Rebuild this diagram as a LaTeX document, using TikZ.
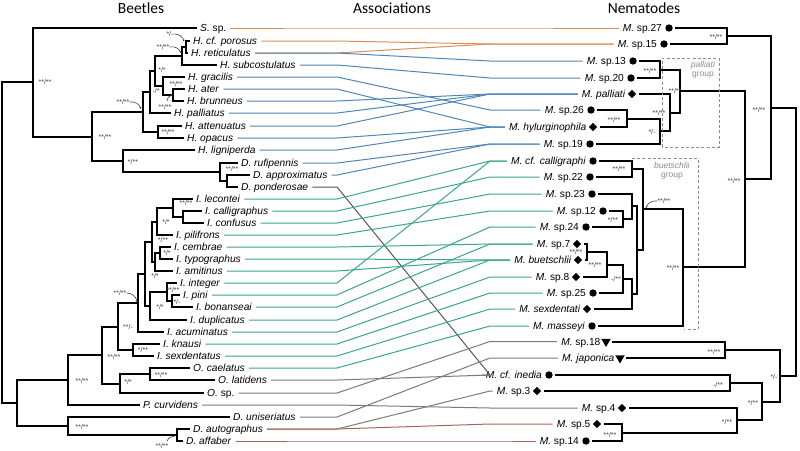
\documentclass[tikz,border=0pt]{standalone}
\usepackage{fontspec}
\setmainfont{Liberation Sans}
\newfontfamily\titlefont{Carlito}
\usetikzlibrary{shapes.geometric,calc,arrows.meta}
\definecolor{corn}{HTML}{DE8C55}
\definecolor{cblu}{HTML}{4F86B5}
\definecolor{cgrn}{HTML}{3AA58A}
\definecolor{cgry}{HTML}{7A7A7A}
\definecolor{cdgy}{HTML}{555555}
\definecolor{cred}{HTML}{B0605A}
\newcommand\linkit[3]{\draw[assoc,#3] ([xshift=4pt]#1.east) -- (bx |- #1.east) -- (cx |- #2.west) -- ([xshift=-4pt]#2.west);}
\begin{document}
\begin{tikzpicture}[x=1pt,y=-1pt,
  tree/.style={line width=2pt, line join=miter},
  assoc/.style={line width=1pt},
  lab/.style={font=\fontsize{10.2}{12}\selectfont, inner sep=0pt, text height=7.3pt, text depth=0pt, anchor=west},
  rlab/.style={lab, anchor=east},
  sup/.style={font=\fontsize{7}{8}\selectfont, text=black!75, inner sep=0pt},
  ttl/.style={font=\titlefont\fontsize{15.5}{17}\selectfont, inner sep=0pt},
  dotm/.style={circle, fill=black, inner sep=0pt, minimum size=7.4pt},
  diam/.style={diamond, fill=black, inner sep=0pt, minimum size=8.6pt},
  tri/.style={regular polygon, regular polygon sides=3, shape border rotate=180, fill=black, inner sep=0pt, minimum size=11pt},
  grp/.style={draw=black!45, dashed, dash pattern=on 3pt off 2.2pt, line width=0.9pt},
  grpt/.style={font=\fontsize{8.5}{9}\selectfont, text=black!45, inner sep=0pt, align=center},
  arr/.style={line width=0.6pt, black!75, -{Stealth[length=2pt,width=2pt]}}
]
\useasboundingbox (0,0) rectangle (800,450);
\coordinate (bx) at (337,0);
\coordinate (cx) at (490,0);

% titles
\node[ttl] (tB) at (141,8) {Beetles};
\node[ttl] (tA) at (392,8) {Associations};
\node[ttl] (tN) at (644,8) {Nematodes};

% beetle labels
\node[lab] (L1) at (200,28) {\textit{S.} sp.};
\node[lab] (L2) at (193,41) {\textit{H. cf. porosus}};
\node[lab] (L3) at (191,53) {\textit{H. reticulatus}};
\node[lab] (L4) at (220,65) {\textit{H. subcostulatus}};
\node[lab] (L5) at (188,77) {\textit{H. gracilis}};
\node[lab] (L6) at (188,89) {\textit{H. ater}};
\node[lab] (L7) at (187,101) {\textit{H. brunneus}};
\node[lab] (L8) at (174,113) {\textit{H. palliatus}};
\node[lab] (L9) at (185,126) {\textit{H. attenuatus}};
\node[lab] (L10) at (187,138) {\textit{H. opacus}};
\node[lab] (L11) at (198,150) {\textit{H. ligniperda}};
\node[lab] (L12) at (241,163) {\textit{D. rufipennis}};
\node[lab] (L13) at (253,175) {\textit{D. approximatus}};
\node[lab] (L14) at (241,187) {\textit{D. ponderosae}};
\node[lab] (L15) at (196,199) {\textit{I. lecontei}};
\node[lab] (L16) at (205,211) {\textit{I. calligraphus}};
\node[lab] (L17) at (207,223) {\textit{I. confusus}};
\node[lab] (L18) at (176,235) {\textit{I. pilifrons}};
\node[lab] (L19) at (174,247) {\textit{I. cembrae}};
\node[lab] (L20) at (176,259) {\textit{I. typographus}};
\node[lab] (L21) at (176,271) {\textit{I. amitinus}};
\node[lab] (L22) at (180,283) {\textit{I. integer}};
\node[lab] (L23) at (183,295) {\textit{I. pini}};
\node[lab] (L24) at (196,307) {\textit{I. bonanseai}};
\node[lab] (L25) at (190,320) {\textit{I. duplicatus}};
\node[lab] (L26) at (167,332) {\textit{I. acuminatus}};
\node[lab] (L27) at (163,344) {\textit{I. knausi}};
\node[lab] (L28) at (157,356) {\textit{I. sexdentatus}};
\node[lab] (L29) at (193,368) {\textit{O. caelatus}};
\node[lab] (L30) at (218,380) {\textit{O. latidens}};
\node[lab] (L31) at (207,393) {\textit{O.} sp.};
\node[lab] (L32) at (143,405) {\textit{P. curvidens}};
\node[lab] (L33) at (233,417) {\textit{D. uniseriatus}};
\node[lab] (L34) at (193,429) {\textit{D. autographus}};
\node[lab] (L35) at (186,441) {\textit{D. affaber}};

% nematode symbols
\node[dotm] (S1) at (669,28) {};
\node[dotm] (S2) at (664,44) {};
\node[dotm] (S3) at (633,61) {};
\node[dotm] (S4) at (631,78) {};
\node[diam] (S5) at (632,94) {};
\node[dotm] (S6) at (591,110) {};
\node[diam] (S7) at (593,127) {};
\node[dotm] (S8) at (590,144) {};
\node[dotm] (S9) at (593,161) {};
\node[dotm] (S10) at (590,177) {};
\node[dotm] (S11) at (592,194) {};
\node[dotm] (S12) at (603,211) {};
\node[dotm] (S13) at (586,227) {};
\node[diam] (S14) at (577,244) {};
\node[diam] (S15) at (578,260) {};
\node[diam] (S16) at (576,277) {};
\node[dotm] (S17) at (593,293) {};
\node[diam] (S18) at (587,309) {};
\node[dotm] (S19) at (592,326) {};
\node[tri] (S20) at (606,341.5) {};
\node[tri] (S21) at (620,358) {};
\node[dotm] (S22) at (549,375) {};
\node[diam] (S23) at (537,391) {};
\node[diam] (S24) at (622,408) {};
\node[diam] (S25) at (597,424) {};
\node[dotm] (S26) at (586,441) {};

% nematode labels
\node[rlab] (R1) at ([xshift=-3pt]S1.west) {\textit{M.} sp.27};
\node[rlab] (R2) at ([xshift=-3pt]S2.west) {\textit{M.} sp.15};
\node[rlab] (R3) at ([xshift=-3pt]S3.west) {\textit{M.} sp.13};
\node[rlab] (R4) at ([xshift=-3pt]S4.west) {\textit{M.} sp.20};
\node[rlab] (R5) at ([xshift=-2pt]S5.west) {\textit{M. palliati}};
\node[rlab] (R6) at ([xshift=-3pt]S6.west) {\textit{M.} sp.26};
\node[rlab] (R7) at ([xshift=-2pt]S7.west) {\textit{M. hylurginophila}};
\node[rlab] (R8) at ([xshift=-3pt]S8.west) {\textit{M.} sp.19};
\node[rlab] (R9) at ([xshift=-3pt]S9.west) {\textit{M. cf. calligraphi}};
\node[rlab] (R10) at ([xshift=-3pt]S10.west) {\textit{M.} sp.22};
\node[rlab] (R11) at ([xshift=-3pt]S11.west) {\textit{M.} sp.23};
\node[rlab] (R12) at ([xshift=-3pt]S12.west) {\textit{M.} sp.12};
\node[rlab] (R13) at ([xshift=-3pt]S13.west) {\textit{M.} sp.24};
\node[rlab] (R14) at ([xshift=-2pt]S14.west) {\textit{M.} sp.7};
\node[rlab] (R15) at ([xshift=-2pt]S15.west) {\textit{M. buetschlii}};
\node[rlab] (R16) at ([xshift=-2pt]S16.west) {\textit{M.} sp.8};
\node[rlab] (R17) at ([xshift=-3pt]S17.west) {\textit{M.} sp.25};
\node[rlab] (R18) at ([xshift=-2pt]S18.west) {\textit{M. sexdentati}};
\node[rlab] (R19) at ([xshift=-3pt]S19.west) {\textit{M. masseyi}};
\node[rlab] (R20) at ([xshift=-2pt]S20.west |- S20.center) {\textit{M.} sp.18};
\node[rlab] (R21) at ([xshift=-2pt]S21.west |- S21.center) {\textit{M. japonica}};
\node[rlab] (R22) at ([xshift=-3pt]S22.west) {\textit{M. cf. inedia}};
\node[rlab] (R23) at ([xshift=-2pt]S23.west) {\textit{M.} sp.3};
\node[rlab] (R24) at ([xshift=-2pt]S24.west) {\textit{M.} sp.4};
\node[rlab] (R25) at ([xshift=-2pt]S25.west) {\textit{M.} sp.5};
\node[rlab] (R26) at ([xshift=-3pt]S26.west) {\textit{M.} sp.14};

% ---------- associations
\linkit{L1}{R1}{corn}
\linkit{L2}{R2}{corn}
\linkit{L3}{R2}{corn}
\linkit{L3}{R3}{cblu}
\linkit{L4}{R4}{cblu}
\linkit{L5}{R6}{cblu}
\linkit{L6}{R7}{cblu}
\linkit{L7}{R5}{cblu}
\linkit{L8}{R5}{cblu}
\linkit{L9}{R5}{cblu}
\linkit{L10}{R7}{cblu}
\linkit{L11}{R7}{cblu}
\linkit{L12}{R8}{cblu}
\linkit{L13}{R8}{cblu}
\linkit{L14}{R22}{cdgy}
\linkit{L15}{R9}{cgrn}
\linkit{L16}{R10}{cgrn}
\linkit{L17}{R11}{cgrn}
\linkit{L18}{R12}{cgrn}
\linkit{L19}{R14}{cgrn}
\linkit{L20}{R15}{cgrn}
\linkit{L21}{R15}{cgrn}
\linkit{L22}{R9}{cgrn}
\linkit{L23}{R13}{cgrn}
\linkit{L24}{R14}{cgrn}
\linkit{L25}{R15}{cgrn}
\linkit{L26}{R16}{cgrn}
\linkit{L27}{R17}{cgrn}
\linkit{L28}{R18}{cgrn}
\linkit{L29}{R19}{cgrn}
\linkit{L30}{R22}{cgry}
\linkit{L31}{R20}{cgry}
\linkit{L32}{R24}{cgry}
\linkit{L33}{R21}{cgry}
\linkit{L34}{R23}{cgry}
\linkit{L34}{R25}{cred}
\linkit{L35}{R26}{cred}

% ---------- beetle tree
\coordinate (root) at (1.5,242.5);
\coordinate (nA) at (33,82);
\coordinate (nB) at (92,136.5);
\coordinate (nC) at (123,161);
\coordinate (nD1) at (220,172);
\coordinate (nD2) at (227,181);
\coordinate (nH1) at (143,112);
\coordinate (nAO) at (158,132);
\coordinate (nH2) at (150,91.5);
\coordinate (nH3) at (155,70.5);
\coordinate (nPR) at (182,56);
\coordinate (nPR2) at (186,47);
\coordinate (nG) at (163,86);
\coordinate (nAB) at (173,95);
\coordinate (n17) at (17,403);
\coordinate (n68) at (68,380);
\coordinate (n102) at (102,355);
\coordinate (n118) at (118,326.5);
\coordinate (nKS) at (133,350);
\coordinate (n138) at (138,303);
\coordinate (nSub) at (145,274);
\coordinate (nS1) at (152,242);
\coordinate (nPil) at (157,221.5);
\coordinate (nLec) at (173,208);
\coordinate (nCC) at (183,217);
\coordinate (nAm) at (155,262);
\coordinate (nCT) at (160,253);
\coordinate (nDup) at (150,306);
\coordinate (nIPB) at (167,292);
\coordinate (nPB) at (172,301);
\coordinate (nO) at (120,383.5);
\coordinate (nCL) at (150,374);
\coordinate (nD3) at (68,426);
\coordinate (nAA) at (177,435);

\draw[tree] (root) |- (nA);
\draw[tree] (root) |- (n17);
\draw[tree] (nA) |- ([xshift=-3pt]L1.west);
\draw[tree] (nA) |- (nB);
\draw[tree] (nB) |- (nH1);
\draw[tree] (nB) |- (nC);
\draw[tree] (nC) |- ([xshift=-3pt]L11.west);
\draw[tree] (nC) |- (nD1);
\draw[tree] (nD1) |- ([xshift=-3pt]L12.west);
\draw[tree] (nD1) |- (nD2);
\draw[tree] (nD2) |- ([xshift=-3pt]L13.west);
\draw[tree] (nD2) |- ([xshift=-3pt]L14.west);
\draw[tree] (nH1) |- (nH2);
\draw[tree] (nH1) |- (nAO);
\draw[tree] (nAO) |- ([xshift=-3pt]L9.west);
\draw[tree] (nAO) |- ([xshift=-3pt]L10.west);
\draw[tree] (nH2) |- (nH3);
\draw[tree] (nH2) |- ([xshift=-3pt]L8.west);
\draw[tree] (nH3) |- (nPR);
\draw[tree] (nH3) |- (nG);
\draw[tree] (nPR) |- (nPR2);
\draw[tree] (nPR) |- ([xshift=-3pt]L4.west);
\draw[tree] (nPR2) |- ([xshift=-3pt]L2.west);
\draw[tree] (nPR2) |- ([xshift=-3pt]L3.west);
\draw[tree] (nG) |- ([xshift=-3pt]L5.west);
\draw[tree] (nG) |- (nAB);
\draw[tree] (nAB) |- ([xshift=-3pt]L6.west);
\draw[tree] (nAB) |- ([xshift=-3pt]L7.west);
\draw[tree] (n17) |- (n68);
\draw[tree] (n17) |- (nD3);
\draw[tree] (n68) |- (n102);
\draw[tree] (n68) |- ([xshift=-3pt]L32.west);
\draw[tree] (n102) |- (n118);
\draw[tree] (n102) |- (nO);
\draw[tree] (n118) |- (n138);
\draw[tree] (n118) |- (nKS);
\draw[tree] (nKS) |- ([xshift=-3pt]L27.west);
\draw[tree] (nKS) |- ([xshift=-3pt]L28.west);
\draw[tree] (n138) |- (nSub);
\draw[tree] (n138) |- ([xshift=-3pt]L26.west);
\draw[tree] (nSub) |- (nS1);
\draw[tree] (nSub) |- (nDup);
\draw[tree] (nS1) |- (nPil);
\draw[tree] (nS1) |- (nAm);
\draw[tree] (nPil) |- (nLec);
\draw[tree] (nPil) |- ([xshift=-3pt]L18.west);
\draw[tree] (nLec) |- ([xshift=-3pt]L15.west);
\draw[tree] (nLec) |- (nCC);
\draw[tree] (nCC) |- ([xshift=-3pt]L16.west);
\draw[tree] (nCC) |- ([xshift=-3pt]L17.west);
\draw[tree] (nAm) |- (nCT);
\draw[tree] (nAm) |- ([xshift=-3pt]L21.west);
\draw[tree] (nCT) |- ([xshift=-3pt]L19.west);
\draw[tree] (nCT) |- ([xshift=-3pt]L20.west);
\draw[tree] (nDup) |- (nIPB);
\draw[tree] (nDup) |- ([xshift=-3pt]L25.west);
\draw[tree] (nIPB) |- ([xshift=-3pt]L22.west);
\draw[tree] (nIPB) |- (nPB);
\draw[tree] (nPB) |- ([xshift=-3pt]L23.west);
\draw[tree] (nPB) |- ([xshift=-3pt]L24.west);
\draw[tree] (nO) |- (nCL);
\draw[tree] (nO) |- ([xshift=-3pt]L31.west);
\draw[tree] (nCL) |- ([xshift=-3pt]L29.west);
\draw[tree] (nCL) |- ([xshift=-3pt]L30.west);
\draw[tree] (nD3) |- ([xshift=-3pt]L33.west);
\draw[tree] (nD3) |- (nAA);
\draw[tree] (nAA) |- ([xshift=-3pt]L34.west);
\draw[tree] (nAA) |- ([xshift=-3pt]L35.west);

% ---------- nematode tree
\coordinate (rroot) at (796,242);
\coordinate (r771) at (771,107.5);
\coordinate (r727) at (727,36);
\coordinate (r745) at (745,179);
\coordinate (r680) at (680,91);
\coordinate (r660a) at (660,69.5);
\coordinate (r670) at (670,112.5);
\coordinate (r660b) at (660,131);
\coordinate (r627) at (627,118.5);
\coordinate (r683) at (683,267);
\coordinate (r643) at (643,209);
\coordinate (r632a) at (632,169);
\coordinate (r637) at (637,250);
\coordinate (r632b) at (632,206);
\coordinate (r623a) at (623,219);
\coordinate (r632c) at (632,294);
\coordinate (r623b) at (623,279);
\coordinate (r607) at (607,265);
\coordinate (r587) at (587,252);
\coordinate (r780) at (780,376);
\coordinate (r725) at (725,350);
\coordinate (r762) at (762,401.5);
\coordinate (r730) at (730,383);
\coordinate (r737) at (737,420);
\coordinate (r622) at (622,432.5);

\draw[tree] (rroot) |- (r771);
\draw[tree] (rroot) |- (r780);
\draw[tree] (r771) |- (r727);
\draw[tree] (r771) |- (r745);
\draw[tree] (r727) |- ([xshift=2.5pt]S1.east);
\draw[tree] (r727) |- ([xshift=2.5pt]S2.east);
\draw[tree] (r745) |- (r680);
\draw[tree] (r745) |- (r683);
\draw[tree] (r680) |- (r660a);
\draw[tree] (r680) |- (r670);
\draw[tree] (r660a) |- ([xshift=2.5pt]S3.east);
\draw[tree] (r660a) |- ([xshift=2.5pt]S4.east);
\draw[tree] (r670) |- ([xshift=2.5pt]S5.east);
\draw[tree] (r670) |- (r660b);
\draw[tree] (r660b) |- (r627);
\draw[tree] (r660b) |- ([xshift=2.5pt]S8.east);
\draw[tree] (r627) |- ([xshift=2.5pt]S6.east);
\draw[tree] (r627) |- ([xshift=2.5pt]S7.east);
\draw[tree] (r683) |- (r643);
\draw[tree] (r683) |- ([xshift=2.5pt]S19.east);
\draw[tree] (r643) |- (r632a);
\draw[tree] (r643) |- (r637);
\draw[tree] (r632a) |- ([xshift=2.5pt]S9.east);
\draw[tree] (r632a) |- ([xshift=2.5pt]S10.east);
\draw[tree] (r637) |- (r632b);
\draw[tree] (r637) |- (r632c);
\draw[tree] (r632b) |- ([xshift=2.5pt]S11.east);
\draw[tree] (r632b) |- (r623a);
\draw[tree] (r623a) |- ([xshift=2.5pt]S12.east);
\draw[tree] (r623a) |- ([xshift=2.5pt]S13.east);
\draw[tree] (r632c) |- (r623b);
\draw[tree] (r632c) |- ([xshift=2.5pt]S18.east);
\draw[tree] (r623b) |- (r607);
\draw[tree] (r623b) |- ([xshift=2.5pt]S17.east);
\draw[tree] (r607) |- (r587);
\draw[tree] (r607) |- ([xshift=2.5pt]S16.east);
\draw[tree] (r587) |- ([xshift=2.5pt]S14.east);
\draw[tree] (r587) |- ([xshift=2.5pt]S15.east);
\draw[tree] (r780) |- (r725);
\draw[tree] (r780) |- (r762);
\draw[tree] (r725) |- ([xshift=2.5pt]S20.east |- S20.center);
\draw[tree] (r725) |- ([xshift=2.5pt]S21.east |- S21.center);
\draw[tree] (r762) |- (r730);
\draw[tree] (r762) |- (r737);
\draw[tree] (r730) |- ([xshift=2.5pt]S22.east);
\draw[tree] (r730) |- ([xshift=2.5pt]S23.east);
\draw[tree] (r737) |- ([xshift=2.5pt]S24.east);
\draw[tree] (r737) |- (r622);
\draw[tree] (r622) |- ([xshift=2.5pt]S25.east);
\draw[tree] (r622) |- ([xshift=2.5pt]S26.east);

% group boxes
\draw[grp] (662,147) -- (662,58) -- (719,58) -- (719,147) -- cycle;
\node[grpt] (gp) at (703,70) {\textit{palliati}\\group};
\draw[grp] (632,158) -- (698,158) -- (698,329) -- (684,329);
\node[grpt] (gb) at (672,171) {\textit{buetschlii}\\group};

% support values, beetles
\node[sup] (b1) at (45,82) {**/**};
\node[sup] (b2) at (105,137) {**/**};
\node[sup] (b3) at (133,162) {*/**};
\node[sup] (b4) at (232,168.5) {**/**};
\node[sup] (b5) at (170,34) {*/-};
\node[sup] (b6) at (163,47) {**/**};
\node[sup] (b7) at (162,70) {*/*};
\node[sup] (b8) at (176,84) {**/**};
\node[sup] (b9) at (156,91) {-/*};
\node[sup] (b10) at (165,107) {**/**};
\node[sup] (b11) at (123,102) {**/**};
\node[sup] (b12) at (168,132) {**/**};
\node[sup] (b13) at (186,203) {**/**};
\node[sup] (b14) at (166,222) {*/*};
\node[sup] (b15) at (163,240) {*/**};
\node[sup] (b16) at (167,253) {*/*};
\node[sup] (b17) at (155,276) {*/*};
\node[sup] (b18) at (120,293) {**/**};
\node[sup] (b19) at (173,289.5) {**/**};
\node[sup] (b20) at (177,301.5) {*/-};
\node[sup] (b21) at (160,307) {*/*};
\node[sup] (b22) at (128,327) {**/-};
\node[sup] (b23) at (143,350) {*/**};
\node[sup] (b24) at (114,357) {**/**};
\node[sup] (b25) at (161,375) {**/**};
\node[sup] (b26) at (128,382) {*/*};
\node[sup] (b27) at (82,381) {**/**};
\node[sup] (b28) at (82,427) {**/**};
\node[sup] (b29) at (162,446) {**/**};
\draw[arr] (b5.east) to[bend left=40] (184,41.5);
\draw[arr] (b6.east) to[bend left=40] (181,53);
\draw[arr] (167,101) to[bend left=40] (173,95);
\draw[arr] (b11.east) to[bend left=40] (141,109);
\draw[arr] (b18.east) to[bend left=40] (137,302);
\draw[arr] (167,441) to[bend left=30] (175,436);

% support values, nematodes
\node[sup] (m1) at (716,37) {**/**};
\node[sup] (m2) at (759,110) {**/**};
\node[sup] (m3) at (650,71) {**/**};
\node[sup] (m4) at (675,91) {**/**};
\node[sup] (m5) at (659,113) {**/**};
\node[sup] (m6) at (652,132) {*/-};
\node[sup] (m7) at (614,119.5) {**/**};
\node[sup] (m8) at (619,169) {**/**};
\node[sup] (m9) at (664,201) {**/**};
\node[sup] (m10) at (613,220) {*/**};
\node[sup] (m11) at (576,251.5) {**/**};
\node[sup] (m12) at (595,265) {**/**};
\node[sup] (m13) at (616,279) {-/**};
\node[sup] (m14) at (673,268) {**/**};
\node[sup] (m15) at (734,181) {**/**};
\node[sup] (m16) at (714,352) {**/**};
\node[sup] (m17) at (774,377) {*/-};
\node[sup] (m18) at (718,385) {-/**};
\node[sup] (m19) at (753,403) {*/**};
\node[sup] (m20) at (727,422) {*/**};
\node[sup] (m21) at (610,435) {**/**};
\draw[arr] (m9.west) to[bend right=40] (646,208);
\end{tikzpicture}
\end{document}
